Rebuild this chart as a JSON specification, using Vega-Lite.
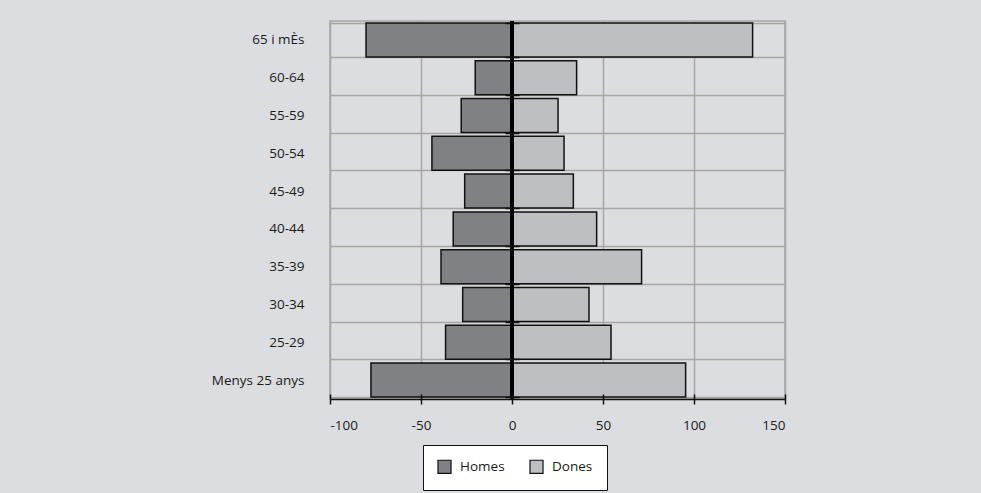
{
  "$schema": "https://vega.github.io/schema/vega-lite/v6.json",
  "autosize": "none",
  "width": 455,
  "height": 378,
  "padding": {"left": 330, "top": 21, "right": 196, "bottom": 94},
  "background": "#dcdde0",
  "config": {
    "view": {"stroke": "#a6a6a6", "strokeWidth": 1.5},
    "font": "Open Sans",
    "axis": {"labelFont": "Open Sans", "labelFontSize": 13.5, "labelColor": "#1a1a1a"},
    "legend": {"labelFont": "Open Sans", "labelFontSize": 13.5, "labelColor": "#1a1a1a"}
  },
  "data": {
    "values": [
      {"edat": "65 i mÈs", "sexe": "Homes", "valor": -80.2},
      {"edat": "65 i mÈs", "sexe": "Dones", "valor": 132.2},
      {"edat": "60-64", "sexe": "Homes", "valor": -20.2},
      {"edat": "60-64", "sexe": "Dones", "valor": 35.5},
      {"edat": "55-59", "sexe": "Homes", "valor": -27.9},
      {"edat": "55-59", "sexe": "Dones", "valor": 25.3},
      {"edat": "50-54", "sexe": "Homes", "valor": -44.0},
      {"edat": "50-54", "sexe": "Dones", "valor": 28.6},
      {"edat": "45-49", "sexe": "Homes", "valor": -26.0},
      {"edat": "45-49", "sexe": "Dones", "valor": 33.7},
      {"edat": "40-44", "sexe": "Homes", "valor": -32.3},
      {"edat": "40-44", "sexe": "Dones", "valor": 46.5},
      {"edat": "35-39", "sexe": "Homes", "valor": -39.0},
      {"edat": "35-39", "sexe": "Dones", "valor": 71.2},
      {"edat": "30-34", "sexe": "Homes", "valor": -27.1},
      {"edat": "30-34", "sexe": "Dones", "valor": 42.3},
      {"edat": "25-29", "sexe": "Homes", "valor": -36.5},
      {"edat": "25-29", "sexe": "Dones", "valor": 54.4},
      {"edat": "Menys 25 anys", "sexe": "Homes", "valor": -77.5},
      {"edat": "Menys 25 anys", "sexe": "Dones", "valor": 95.4}
    ]
  },
  "resolve": {"axis": {"x": "independent", "y": "independent"}},
  "layer": [
    {
      "mark": {"type": "bar", "stroke": "#111111", "strokeWidth": 1.5},
      "encoding": {
        "y": {
          "field": "edat", "type": "nominal",
          "sort": ["65 i mÈs", "60-64", "55-59", "50-54", "45-49", "40-44", "35-39", "30-34", "25-29", "Menys 25 anys"],
          "scale": {"paddingInner": 0.1, "paddingOuter": 0.05},
          "axis": {"title": null, "orient": "left", "domain": false, "ticks": false, "grid": true, "gridColor": "#a6a6a6", "gridWidth": 1.5, "tickBand": "extent", "labelPadding": 26, "zindex": 0}
        },
        "x": {
          "field": "valor", "type": "quantitative", "stack": null,
          "scale": {"domain": [-100, 150], "nice": false},
          "axis": {"title": null, "orient": "bottom", "values": [-100, -50, 0, 50, 100, 150], "labelExpr": "'' + datum.value", "grid": true, "gridColor": "#a6a6a6", "gridWidth": 1.5, "domainColor": "#111111", "domainWidth": 1.5, "tickColor": "#111111", "tickWidth": 1.5, "tickSize": 5, "labelPadding": 14, "zindex": 0}
        },
        "color": {
          "field": "sexe", "type": "nominal",
          "scale": {"domain": ["Homes", "Dones"], "range": ["#808184", "#bebfc2"]},
          "legend": {"title": null, "orient": "none", "direction": "horizontal", "legendX": 93, "legendY": 424, "fillColor": "#ffffff", "strokeColor": "#111111", "padding": 14, "symbolType": "square", "symbolSize": 170, "symbolStrokeColor": "#111111", "symbolStrokeWidth": 1.2, "symbolOpacity": 1, "columnPadding": 22, "labelOffset": 8}
        }
      }
    },
    {
      "mark": {"type": "bar", "opacity": 0},
      "encoding": {
        "y": {
          "field": "edat", "type": "nominal",
          "sort": ["65 i mÈs", "60-64", "55-59", "50-54", "45-49", "40-44", "35-39", "30-34", "25-29", "Menys 25 anys"],
          "axis": {"title": null, "orient": "left", "offset": -182, "labels": false, "domain": false, "grid": false, "ticks": true, "tickBand": "extent", "tickSize": 7, "tickColor": "#111111", "tickWidth": 1.5, "zindex": 2}
        },
        "x": {
          "field": "valor", "type": "quantitative", "stack": null,
          "axis": {"title": null, "orient": "top", "offset": -378, "values": [-100, -50, 0, 50, 100, 150], "labels": false, "domain": false, "grid": false, "ticks": true, "tickSize": 5, "tickColor": "#111111", "tickWidth": 1.5, "zindex": 2}
        }
      }
    },
    {
      "mark": {"type": "bar", "opacity": 0},
      "encoding": {
        "y": {
          "field": "edat", "type": "nominal",
          "sort": ["65 i mÈs", "60-64", "55-59", "50-54", "45-49", "40-44", "35-39", "30-34", "25-29", "Menys 25 anys"],
          "axis": {"title": null, "orient": "right", "offset": -273, "labels": false, "domain": false, "grid": false, "ticks": true, "tickBand": "extent", "tickSize": 7, "tickColor": "#111111", "tickWidth": 1.5, "zindex": 2}
        },
        "x": {
          "field": "valor", "type": "quantitative", "stack": null,
          "axis": null
        }
      }
    },
    {
      "mark": {"type": "rule", "color": "#000000", "strokeWidth": 3},
      "encoding": {
        "x": {"datum": 0, "axis": null}
      }
    }
  ]
}
